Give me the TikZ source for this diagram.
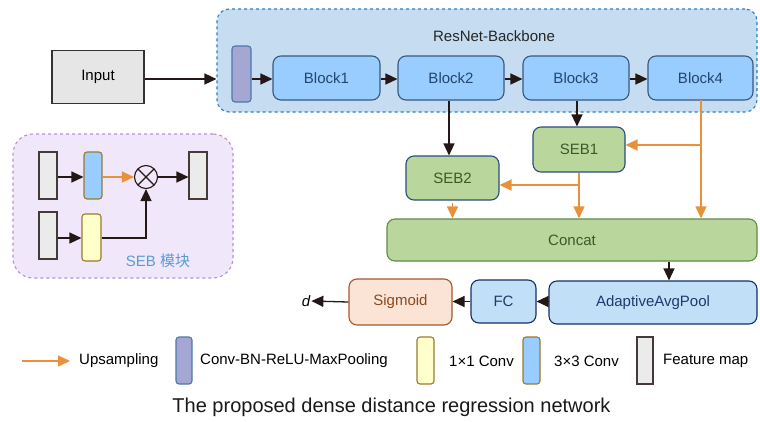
\documentclass[tikz,border=0pt]{standalone}
\usepackage{fontspec}
\setmainfont{Liberation Sans}
\newfontfamily\cjk{Noto Sans CJK SC}
\usetikzlibrary{arrows.meta}
\definecolor{inputfill}{HTML}{E6E6E6}
\definecolor{bbfill}{HTML}{C6DCF0}
\definecolor{bbdraw}{HTML}{2A7CC7}
\definecolor{purfill}{HTML}{A4A6D4}
\definecolor{purdraw}{HTML}{4F78A8}
\definecolor{blkfill}{HTML}{99CCFF}
\definecolor{blkdraw}{HTML}{36597F}
\definecolor{blktext}{HTML}{23466E}
\definecolor{sebfill}{HTML}{B9D79C}
\definecolor{sebdraw}{HTML}{2B4C7E}
\definecolor{sebtext}{HTML}{3A5A28}
\definecolor{catdraw}{HTML}{5E8C44}
\definecolor{aapfill}{HTML}{C2DFF8}
\definecolor{aapdraw}{HTML}{10306B}
\definecolor{aaptext}{HTML}{1F3A6B}
\definecolor{sigfill}{HTML}{FBE4D6}
\definecolor{sigdraw}{HTML}{A0582C}
\definecolor{sigtext}{HTML}{8B4A1E}
\definecolor{orng}{HTML}{E8913A}
\definecolor{modfill}{HTML}{F1E7FB}
\definecolor{moddraw}{HTML}{B690D8}
\definecolor{fmfill}{HTML}{EBEBEB}
\definecolor{convdraw}{HTML}{9A7B28}
\definecolor{c1fill}{HTML}{FFFFCC}
\definecolor{modtext}{HTML}{5B9BD5}
\definecolor{arr}{HTML}{231815}
\tikzset{
  txt/.style={font=\fontsize{15}{18}\selectfont},
  box/.style={draw, line width=1.1pt, inner sep=0pt, txt},
  blockbox/.style={box, rounded corners=8pt, fill=blkfill, draw=blkdraw, text=blktext},
  sebbox/.style={box, rounded corners=8pt, fill=sebfill, draw=sebdraw, text=sebtext},
  fmap/.style={draw=arr!85, line width=1.1pt, fill=fmfill, inner sep=0pt, minimum width=18pt, minimum height=47pt},
  cthree/.style={draw=convdraw, line width=1.1pt, fill=blkfill, inner sep=0pt, rounded corners=3pt, minimum width=18pt, minimum height=47pt},
  cone/.style={draw=convdraw, line width=1.1pt, fill=c1fill, inner sep=0pt, rounded corners=3pt, minimum width=18pt, minimum height=47pt},
  cbr/.style={draw=purdraw, line width=1.1pt, fill=purfill, inner sep=0pt, rounded corners=3pt},
  blk/.style={draw=arr, line width=1.3pt, -{Triangle[length=12pt,width=11pt]}},
  ora/.style={draw=orng, line width=1.3pt, -{Triangle[length=12pt,width=11pt]}},
}
\begin{document}
\begin{tikzpicture}[x=1pt,y=-1pt]
\useasboundingbox (0,0) rectangle (760,421);
% backbone container
\node[draw=bbdraw, dashed, line width=1.1pt, fill=bbfill, rounded corners=12pt, minimum width=540pt, minimum height=103pt, inner sep=0pt] (bb) at (487,60.5) {};
\node[txt, text=black!85] (bbt) at (494,36) {ResNet-Backbone};
% input
\node[box, fill=inputfill, draw=black!80, minimum width=92pt, minimum height=53pt] (in) at (98,77) {Input};
\node[cbr, minimum width=19pt, minimum height=56pt] (cbr) at (241.5,74) {};
\node[blockbox, minimum width=107pt, minimum height=44pt] (b1) at (326.5,78) {Block1};
\node[blockbox, minimum width=106pt, minimum height=44pt] (b2) at (451,78) {Block2};
\node[blockbox, minimum width=106pt, minimum height=44pt] (b3) at (576,78) {Block3};
\node[blockbox, minimum width=105pt, minimum height=44pt] (b4) at (700.5,78) {Block4};
% SEBs
\node[sebbox, minimum width=92pt, minimum height=45pt] (s1) at (579,149.5) {SEB1};
\node[sebbox, minimum width=93pt, minimum height=44pt] (s2) at (452.5,178) {SEB2};
\node[box, rounded corners=8pt, fill=sebfill, draw=catdraw, text=sebtext, minimum width=370pt, minimum height=42pt] (cat) at (572,240) {Concat};
\node[box, rounded corners=8pt, fill=aapfill, draw=aapdraw, text=aaptext, minimum width=208pt, minimum height=43pt] (aap) at (653,302.5) {AdaptiveAvgPool};
\node[box, rounded corners=8pt, fill=aapfill, draw=aapdraw, text=aaptext, minimum width=65pt, minimum height=43pt] (fc) at (503.5,301.5) {FC};
\node[box, rounded corners=8pt, fill=sigfill, draw=sigdraw, text=sigtext, minimum width=103pt, minimum height=46pt] (sig) at (400.5,302) {Sigmoid};
\node[txt, inner sep=1pt] (d) at (306,301) {\itshape d};
% backbone arrows
\draw[blk] (in.east |- 0,79) -- (bb.west |- 0,79);
\draw[blk] (cbr.east |- 0,79) -- (b1.west |- 0,79);
\draw[blk] (b1.east |- 0,79) -- (b2.west |- 0,79);
\draw[blk] (b2.east |- 0,79) -- (b3.west |- 0,79);
\draw[blk] (b3.east |- 0,79) -- (b4.west |- 0,79);
\draw[blk] ([xshift=-2pt]b2.south) -- ([xshift=-2pt]b2.south |- s2.north);
\draw[blk] ([xshift=1pt]b3.south) -- ([xshift=1pt]b3.south |- s1.north);
% orange
\coordinate (b4x) at (701,100);
\coordinate (b4br) at (701,145);
\draw[ora] (b4x) -- (b4x |- cat.north);
\draw[ora] (b4br) -- (b4br -| s1.east);
\coordinate (s1br) at (579,185);
\draw[ora] (s1.south) -- (s1.south |- cat.north);
\draw[ora] (s1br) -- (s1br -| s2.east);
\draw[ora] ([yshift=-2pt]s2.south) -- (s2.south |- cat.north);
% bottom chain
\coordinate (catx) at (669,0);
\draw[blk] (cat.south -| catx) -- (aap.north -| catx);
\draw[blk] (aap.west |- fc.east) -- (fc.east);
\draw[blk] (fc.west) -- (sig.east |- fc.west);
\draw[blk] (sig.west) -- (d.east);
% SEB module
\node[draw=moddraw, dashed, line width=1.1pt, fill=modfill, rounded corners=20pt, minimum width=220pt, minimum height=144pt, inner sep=0pt] (mod) at (123,206) {};
\node[fmap] (fm1) at (48,175.5) {};
\node[cthree] (c3) at (93,175.5) {};
\node[draw=arr, line width=1.1pt, circle, minimum size=23pt, inner sep=0pt] (ot) at (146,177) {};
\draw[arr, line width=1.1pt] ([shift={(-8.1,-8.1)}]ot.center) -- ([shift={(8.1,8.1)}]ot.center);
\draw[arr, line width=1.1pt] ([shift={(-8.1,8.1)}]ot.center) -- ([shift={(8.1,-8.1)}]ot.center);
\node[fmap] (fmo) at (198,175.5) {};
\node[fmap] (fm2) at (48,235.5) {};
\node[cone, minimum width=19pt] (c1) at (91.5,237.5) {};
\node[txt, text=modtext, font=\fontsize{15}{18}\selectfont] (modt) at (158,261) {SEB {\cjk 模块}};
\draw[blk] (fm1.east |- ot.west) -- (c3.west |- ot.west);
\draw[ora] (c3.east |- ot.west) -- (ot.west);
\draw[blk] (ot.east) -- (fmo.west |- ot.east);
\draw[blk] (fm2.east |- 0,238) -- (c1.west |- 0,238);
\draw[blk] (c1.east |- 0,238) -| (ot.south);
% legend
\coordinate (la) at (22,361);
\coordinate (lb) at (70,361);
\draw[ora] (la) -- (lb);
\node[txt, anchor=west, inner sep=0pt] (l1) at (79,361) {Upsampling};
\node[cbr, minimum width=16pt, minimum height=47pt] (lp) at (184,360.5) {};
\node[txt, anchor=west, inner sep=0pt] (l2) at (200,361) {Conv-BN-ReLU-MaxPooling};
\node[cone, minimum width=17pt] (ly) at (425.5,360.5) {};
\node[txt, anchor=west, inner sep=0pt] (l3) at (449,361) {1×1 Conv};
\node[cthree, minimum width=17pt] (lbl) at (531.5,360.5) {};
\node[txt, anchor=west, inner sep=0pt] (l4) at (554,361) {3×3 Conv};
\node[fmap, minimum width=16pt] (lg) at (645,360.5) {};
\node[txt, anchor=west, inner sep=0pt] (l5) at (663,361) {Feature map};
\node[font=\fontsize{20}{24}\selectfont, text=black!90] (cap) at (391.5,407) {The proposed dense distance regression network};
\end{tikzpicture}
\end{document}
